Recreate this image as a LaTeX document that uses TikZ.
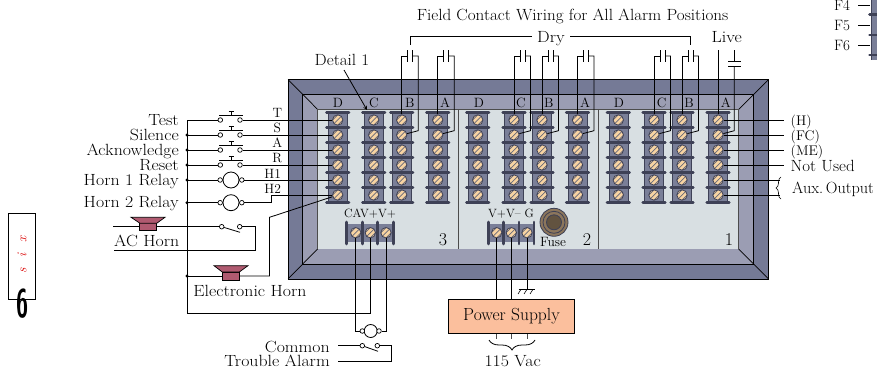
\documentclass[tikz,border=0pt]{standalone}
\usepackage{amsmath,amssymb}
\usepackage{tikz}
\usetikzlibrary{calc,decorations.pathreplacing,arrows}
\definecolor{frameDark}{HTML}{757A96}
\definecolor{frameLight}{HTML}{9B9DB3}
\definecolor{panelFill}{HTML}{D8DFE2}
\definecolor{blockFill}{HTML}{7A7F98}
\definecolor{barDark}{HTML}{3E4156}
\definecolor{screwFill}{HTML}{F7D3A2}
\definecolor{hornFill}{HTML}{B05A70}
\definecolor{supplyFill}{HTML}{FBBF9D}
\definecolor{fuseFill}{HTML}{8C765C}
\tikzset{
  wire/.style={line width=.8pt,black},
  lbl/.style={inner sep=0pt,xscale=1.1,font=\fontsize{16.2}{17}\selectfont},
  tag/.style={inner sep=0pt,anchor=base,font=\fontsize{13.5}{14}\selectfont},
  screw/.style={circle,draw=barDark,line width=.8pt,fill=screwFill,minimum size=10.4pt,inner sep=0pt,
    path picture={\foreach \k in {-2.6,0,2.6}
      \draw[barDark!80,line width=.7pt] ($(path picture bounding box.center)+(-6+\k,6+\k)$)--($(path picture bounding box.center)+(6+\k,-6+\k)$);}},
  pin/.style={circle,draw=black,line width=.7pt,fill=white,minimum size=4.6pt,inner sep=0pt},
  dot/.style={circle,fill=black,minimum size=3.4pt,inner sep=0pt},
  coil/.style={circle,draw=black,line width=.8pt,fill=white,inner sep=0pt},
  bar/.style={line width=2.6pt,barDark,line cap=round},
  hornbody/.style={draw=black,line width=.7pt,fill=hornFill,minimum width=17pt,minimum height=8pt,inner sep=0pt},
}
\begin{document}
\begin{tikzpicture}[x=1pt,y=-1pt]
  \useasboundingbox (0,0) rectangle (877,372);
  %\draw[thin,gray!40] (0,0) grid[step=50pt] (877,372);

  % frame
  \fill[frameDark] (288,79.5) rectangle (768.5,279);
  \draw[line width=1pt,black] (288,79.5) rectangle (768.5,279);
  \draw[line width=1pt,black,fill=frameLight] (302,94) rectangle (753.7,264);
  \fill[panelFill] (317.5,109.3) rectangle (738.7,249);
  \draw[line width=.7pt,black] (288,79.5)--(317.5,109.3);
  \draw[line width=.7pt,black] (768.5,79.5)--(738.7,109.3);
  \draw[line width=.7pt,black] (288,279)--(317.5,249);
  \draw[line width=.7pt,black] (768.5,279)--(738.7,249);
  \draw[line width=.7pt,black!70] (317.5,249)--(317.5,109.3)--(738.7,109.3)--(738.7,249);
  \draw[line width=.7pt,black!70] (458,109.3)--(458,249);
  \draw[line width=.7pt,black!70] (598.3,109.3)--(598.3,249);

  % terminal columns
  \foreach \col/\x in {1/337.7,2/373.7,3/401.7,4/437.7,5/477.7,6/514,7/542,8/577.5,9/618.3,10/654,11/682,12/718}{
    \fill[blockFill] (\x-9.5,112.5) rectangle (\x+9.5,203);
    \draw[line width=.6pt,barDark] (\x-9.5,112.5)--(\x-9.5,203);
    \draw[line width=.6pt,barDark] (\x+9.5,112.5)--(\x+9.5,203);
    \foreach \row in {0,...,6}
      \draw[bar] (\x-11.3,112.4+15*\row)--(\x+11.3,112.4+15*\row);
    \foreach \row in {1,...,6}
      \node[screw] (s\col r\row) at (\x,105+15*\row) {};
  }
  \foreach \name/\x in {D/338,C/374,B/409.7,A/445,D/479,C/521,B/548.7,A/585,D/619,C/661.7,B/689,A/725.7}
    \node[tag] at (\x,107.3) {\name};

  % lower terminal blocks
  \fill[blockFill] (346.7,224) rectangle (393.3,242);
  \foreach \x in {346.7,362.3,377.7,393.3}
    \draw[bar] (\x,222)--(\x,244);
  \node[screw] (tC) at (355.7,232.7) {};
  \node[screw] (tA) at (370.3,232.7) {};
  \node[screw] (tV) at (386,232.7) {};
  \fill[blockFill] (488.3,224) rectangle (534,242);
  \foreach \x in {488.3,503.3,519,534}
    \draw[bar] (\x,222)--(\x,244);
  \node[screw] (tP) at (496.7,232.7) {};
  \node[screw] (tM) at (511.3,232.7) {};
  \node[screw] (tG) at (527,232.7) {};
  \node[tag,font=\fontsize{12}{13}\selectfont] at (370,217.7) {CAV+V+};
  \node[tag,font=\fontsize{12}{13}\selectfont] at (511,217.7) {V+V\textendash\ G};

  % fuse
  \draw[line width=.8pt,barDark,fill=fuseFill] (554,222.3) circle (14pt);
  \draw[line width=.8pt,barDark] (554,222.3) circle (11pt);
  \draw[line width=.8pt,barDark,fill=fuseFill!70!black] (554,222.3) circle (7.5pt);
  \node[tag] at (553,246) {Fuse};
  \node[tag,font=\fontsize{18}{19}\selectfont] at (443,245) {3};
  \node[tag,font=\fontsize{18}{19}\selectfont] at (587,245) {2};
  \node[tag,font=\fontsize{18}{19}\selectfont] at (729,245) {1};

  % title and dry contacts
  \node[lbl,anchor=base,xscale=.96] at (572.5,20.7) {Field Contact Wiring for All Alarm Positions};
  \node[lbl,anchor=base] (dry) at (551,42.5) {Dry};
  \node[lbl,anchor=base] at (726.7,42.5) {Live};
  \coordinate (dryL) at (410,44.5);
  \coordinate (dryR) at (690.7,44.5);
  \draw[wire] (532,36.7) -| (dryL);
  \draw[wire] (570,36.7) -| (dryR);
  \foreach \col/\x in {3/401.7,4/437.7,6/514,7/542,8/577.5,10/654,11/682}{
    \coordinate (pa\col) at (\x+6,56);
    \coordinate (pb\col) at (\x+11,56);
    \draw[wire] (s\col r1) |- (pa\col);
    \draw[wire] (pa\col)++(0,-6)--++(0,12);
    \draw[wire] (pb\col)++(0,-6)--++(0,12);
    \draw[wire] (pb\col) -| (\x+16.5,130.7) -- (s\col r2);
  }

  % live contact
  \coordinate (liveA) at (718,50);
  \coordinate (liveB) at (734.3,50);
  \draw[wire] (liveA) -- (s12r1);
  \draw[wire] (liveB) -- (734.3,61);
  \draw[wire] (728.3,61)--(741,61);
  \draw[wire] (728.3,66.7)--(741,66.7);
  \draw[wire] (734.3,66.7) -- (734.3,130.7) -- (s12r2);

  % right hand side
  \foreach \row/\name in {1/(H),2/(FC),3/(ME)}{
    \coordinate (out\row) at (784,105+15*\row);
    \draw[wire] (s12r\row) -- (out\row);
    \node[tag,anchor=base west,font=\fontsize{14}{15}\selectfont] at (790.5,110+15*\row) {\name};
  }
  \coordinate (out4) at (784,165);
  \draw[wire] (s12r4) -- (out4);
  \node[lbl,anchor=base west,xscale=.95] at (790.5,171) {Not Used};
  \coordinate (out5) at (780,180);
  \coordinate (out6) at (780,195);
  \draw[wire] (s12r5) -- (out5);
  \draw[wire] (s12r6) -- (out6);
  \draw[wire,line width=.6pt,decorate,decoration={brace,amplitude=5pt,mirror}] (781,177)--(781,199);
  \node[lbl,anchor=base west,xscale=.91] at (792,193) {Aux.\,Output};

  % detail arrow
  \node[lbl,anchor=base,xscale=.96] (detail) at (342,65) {Detail 1};
  \coordinate (detailEnd) at (367,110);
  \draw[line width=.8pt,black,-stealth] (344,70)--(detailEnd);

  % bus
  \coordinate (busTop) at (187,120);
  \coordinate (busEnd) at (187,313.3);
  \coordinate (busRight) at (370.3,313.3);
  \draw[wire] (busTop)--(busEnd)-|(tA);
  \foreach \y in {135,150,165,180,202.7,276}
    \node[dot] at (187,\y) {};

  % push buttons
  \foreach \row/\name/\lab/\wl in {1/Test/T/117,2/Silence/S/132,3/Acknowledge/A/147,4/Reset/R/162}{
    \node[lbl,anchor=base east] at (179,110+15*\row) {\name};
    \node[pin] (pl\row) at (220.3,105+15*\row) {};
    \node[pin] (pr\row) at (240,105+15*\row) {};
    \coordinate (bus\row) at (187,105+15*\row);
    \draw[wire] (bus\row) -- (pl\row);
    \draw[wire] (pr\row) -- (s1r\row);
    \draw[wire] (219.3,100.3+15*\row)--(242.7,100.3+15*\row);
    \draw[wire] (231,100.3+15*\row)--(231,96.7+15*\row);
    \draw[wire] (228.5,96.7+15*\row)--(233.5,96.7+15*\row);
    \node[tag] at (277.3,\wl) {\lab};
  }

  % horn relays
  \node[lbl,anchor=base east] at (179,185) {Horn 1 Relay};
  \node[lbl,anchor=base east] at (179,207) {Horn 2 Relay};
  \node[tag] at (272.7,178.3) {H1};
  \node[tag] at (272.7,193.3) {H2};
  \foreach \nm/\y in {a/180,b/202.7}{
    \coordinate (bus\nm) at (187,\y);
    \node[coil,minimum size=16pt] (coil\nm) at (231,\y) {};
    \node[pin] (cl\nm) at (220.2,\y) {};
    \node[pin] (cr\nm) at (241.8,\y) {};
    \draw[wire] (bus\nm) -- (cl\nm);
  }
  \draw[wire] (cra) -- (s1r5);
  \coordinate (h2Jog) at (271,195);
  \draw[wire] (crb) -| (h2Jog) -- (s1r6);

  % AC horn
  \node[hornbody] (acHorn) at (148.3,226.7) {};
  \draw[line width=.7pt,black,fill=hornFill] (131,217.3)--(165,217.3)--(156.7,223.3)--(140,223.3)--cycle;
  \coordinate (acA) at (113.3,226.7);
  \coordinate (acB) at (114,250.3);
  \coordinate (acC) at (255.3,250.3);
  \node[pin] (acL) at (221.7,226.7) {};
  \node[pin] (acR) at (239.7,226.7) {};
  \coordinate (acArm) at (240,232.3);
  \draw[wire] (acA) -- (acHorn);
  \draw[wire] (acHorn) -- (acL);
  \draw[wire] (acL) -- (acArm);
  \draw[wire] (acR) -| (acC) -- (acB);
  \node[lbl,anchor=base] at (146.7,246) {AC Horn};

  % electronic horn
  \node[hornbody] (elHorn) at (230.8,276) {};
  \draw[line width=.7pt,black,fill=hornFill] (214,265.7)--(248,265.7)--(239.3,272)--(222.3,272)--cycle;
  \coordinate (elBus) at (187,276);
  \coordinate (elUp) at (269.5,217.3);
  \draw[wire] (elBus) -- (elHorn);
  \draw[wire] (elHorn) -| (elUp) -- (s1r6);
  \node[lbl,anchor=base] at (250,296) {Electronic Horn};

  % trouble alarm
  \node[coil,minimum size=13pt] (coilT) at (370.7,331) {};
  \node[pin] (ctl) at (362.3,331) {};
  \node[pin] (ctr) at (379,331) {};
  \draw[wire] (tC) |- (ctl);
  \draw[wire] (tV) -- (386,331) -- (ctr);
  \node[pin] (swL) at (362.3,345.7) {};
  \node[pin] (swR) at (377.3,345.7) {};
  \coordinate (swArm) at (378,351.3);
  \coordinate (comA) at (338.3,345.7);
  \coordinate (troA) at (338.3,361.7);
  \coordinate (troC) at (391.7,361.7);
  \draw[wire] (comA) -- (swL);
  \draw[wire] (swL) -- (swArm);
  \draw[wire] (swR) -| (troC) -- (troA);
  \node[lbl,anchor=base east] at (330,352) {Common};
  \node[lbl,anchor=base east] at (330,366.7) {Trouble Alarm};

  % power supply
  \node[draw=black,line width=1pt,fill=supplyFill,minimum width=125.6pt,minimum height=34.4pt,inner sep=0pt,
    font=\fontsize{17.5}{18}\selectfont] (supply) at (511.5,316.5) {Power Supply};
  \coordinate (gnd) at (527,289.3);
  \draw[wire] (tP) -- (tP |- supply.north);
  \draw[wire] (tM) -- (tM |- supply.north);
  \draw[wire] (tG) -- (gnd);
  \draw[wire] (518.5,289.3)--(535,289.3);
  \foreach \x in {521,527,533}
    \draw[wire,line width=.6pt] (\x,289.3)--(\x-3,294);
  \foreach \k in {tP,tM,tG}
    \draw[wire,line width=.6pt,black!70] (\k |- supply.south) -- ++(0,5);
  \draw[wire,decorate,decoration={brace,amplitude=10pt,mirror}] (489,340)--(535,340);
  \node[lbl,anchor=base] at (512.7,366.7) {115 Vac};

  % next drawing at the top right
  \fill[blockFill] (871,0) rectangle (877,60);
  \draw[line width=.6pt,barDark] (871,0)--(871,60);
  \foreach \y in {14.5,35,55}
    \draw[bar] (869.5,\y)--(878,\y);
  \foreach \name/\y in {F4/5.5,F5/25.5,F6/45.5}{
    \node[tag,anchor=base west,font=\fontsize{15}{15}\selectfont] at (834,\y+4.9) {\name};
    \draw[wire] (858,\y)--(870,\y);
  }

  % side tab
  \draw[line width=.7pt,black] (8.3,213.3) rectangle (35.3,299.3);
  \node[rotate=90,red!85!black,inner sep=0pt,font=\fontsize{13.5}{14}\itshape\selectfont] at (22,255) {s\hspace{11pt}i\hspace{11pt}x};
  \node[xscale=.55,inner sep=0pt,font=\fontsize{40}{40}\sffamily\bfseries\selectfont] at (23,303.5) {6};
\end{tikzpicture}
\end{document}
